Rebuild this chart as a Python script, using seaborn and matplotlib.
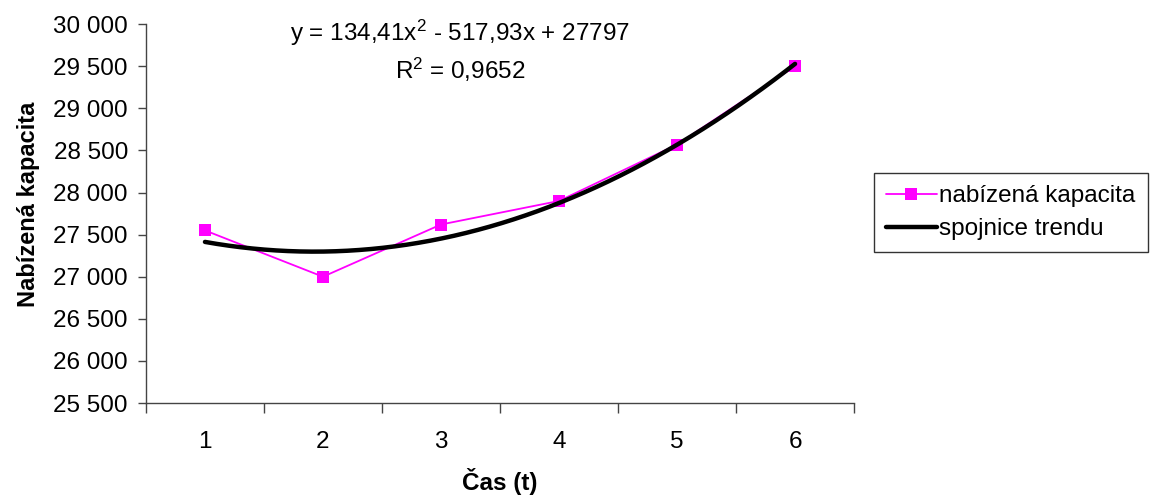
import numpy as np
import pandas as pd
import matplotlib
matplotlib.use("Agg")
import matplotlib.pyplot as plt
from matplotlib.ticker import FuncFormatter, FixedLocator
import seaborn as sns

# Offered capacity per period
periods = [1, 2, 3, 4, 5, 6]
capacity = [27550, 27000, 27620, 27900, 28570, 29500]

# Quadratic trend coefficients and fit quality
coef_a = 134.41
coef_b = -517.93
coef_c = 27797
r_squared = 0.9652

y_ticks = [25500, 26000, 26500, 27000, 27500, 28000, 28500, 29000, 29500, 30000]

sns.set_style("white")
plt.rcParams["font.family"] = ["Liberation Sans", "DejaVu Sans"]
plt.rcParams["mathtext.fontset"] = "custom"
plt.rcParams["mathtext.rm"] = "Liberation Sans"
plt.rcParams["mathtext.it"] = "Liberation Sans:italic"
plt.rcParams["mathtext.bf"] = "Liberation Sans:bold"
plt.rcParams["text.color"] = "black"
plt.rcParams["axes.labelcolor"] = "black"
plt.rcParams["xtick.color"] = "black"
plt.rcParams["ytick.color"] = "black"

FS = 17.5

fig = plt.figure(figsize=(11.51, 5.03), dpi=100)
ax = fig.add_axes([0.1268, 0.1988, 0.6152, 0.7532])

df = pd.DataFrame({"t": periods, "kapacita": capacity})
t_dense = np.linspace(periods[0], periods[-1], 200)
trend = pd.DataFrame({"t": t_dense,
                      "trend": coef_a * t_dense ** 2 + coef_b * t_dense + coef_c})

sns.lineplot(data=df, x="t", y="kapacita", ax=ax, color="#FF00FF", linewidth=1.3,
             marker="s", markersize=8, markeredgewidth=0, label="nabízená kapacita")
sns.lineplot(data=trend, x="t", y="trend", ax=ax, color="black", linewidth=3.2,
             label="spojnice trendu")

ax.set_xlim(0.5, 6.5)
ax.set_ylim(y_ticks[0], y_ticks[-1])
ax.yaxis.set_major_locator(FixedLocator(y_ticks))
ax.yaxis.set_major_formatter(FuncFormatter(lambda v, p: f"{v:,.0f}".replace(",", " ")))
ax.xaxis.set_major_locator(FixedLocator(periods))
ax.xaxis.set_minor_locator(FixedLocator(np.arange(0.5, 6.6, 1.0)))
ax.set_xticklabels([str(p) for p in periods])

ax.tick_params(axis="y", which="major", direction="out", length=6, width=1,
               color="#444444", pad=7, labelsize=FS, left=True)
ax.tick_params(axis="x", which="major", length=0, pad=20, labelsize=FS)
ax.tick_params(axis="x", which="minor", direction="out", length=7, width=1,
               color="#444444", bottom=True)

for side in ("top", "right"):
    ax.spines[side].set_visible(False)
for side in ("left", "bottom"):
    ax.spines[side].set_color("#444444")
    ax.spines[side].set_linewidth(1)

ax.set_xlabel("Čas (t)", fontsize=FS, fontweight="bold", labelpad=11)
ax.set_ylabel("Nabízená kapacita", fontsize=17, fontweight="bold")
ax.yaxis.set_label_coords(-0.15, 0.525)

eq = (f"y = {coef_a:.2f}".replace(".", ",") + r"x$^2$ - "
      + f"{-coef_b:.2f}".replace(".", ",") + f"x + {coef_c}")
r2 = r"R$^2$ = " + f"{r_squared:.4f}".replace(".", ",")
fig.text(0.400, 0.934, eq, ha="center", va="center", fontsize=FS)
fig.text(0.400, 0.861, r2, ha="center", va="center", fontsize=FS)

leg = ax.legend(loc="center left", bbox_to_anchor=(0.759, 0.577),
                bbox_transform=fig.transFigure, frameon=True, fontsize=FS,
                handlelength=2.1, handletextpad=0.1, borderpad=0.5,
                labelspacing=0.45, borderaxespad=0)
leg.get_frame().set_edgecolor("black")
leg.get_frame().set_linewidth(1)
leg.get_frame().set_boxstyle("square", pad=0)

fig.savefig("out.png", dpi=100, facecolor="white")
